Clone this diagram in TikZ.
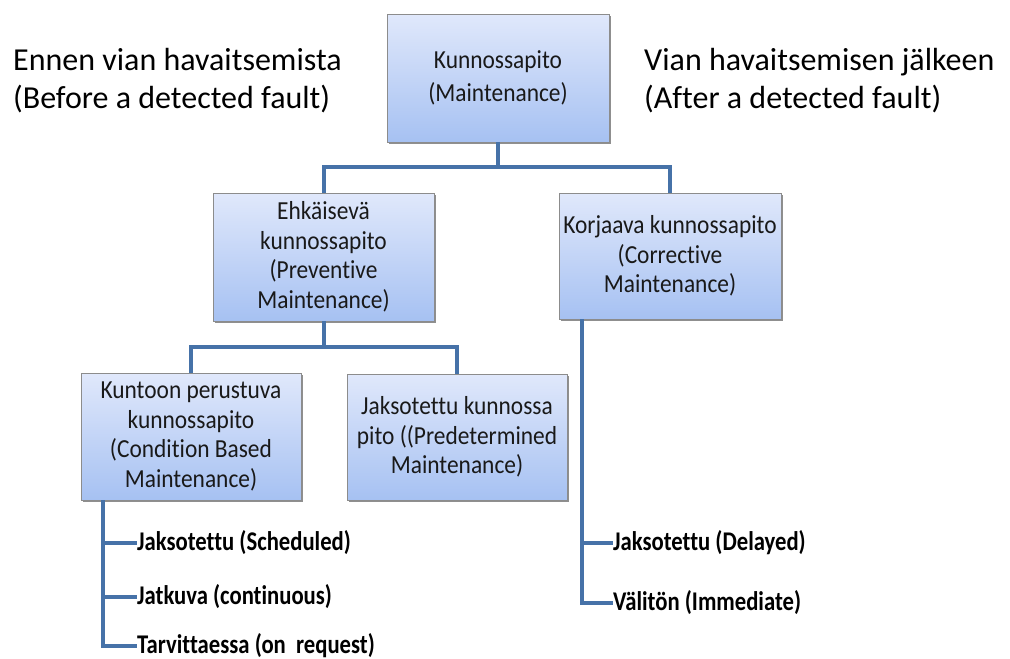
\documentclass[tikz,border=0pt]{standalone}
\usepackage{fontspec}
\setmainfont[RawFeature=-liga]{Carlito}
\newfontfamily\boxfont[FakeStretch=0.9,RawFeature=-liga]{Carlito}
\newfontfamily\listfont[FakeStretch=0.84,RawFeature=-liga]{Carlito}
\usetikzlibrary{shadows}
\definecolor{conncol}{RGB}{70,114,168}
\definecolor{boxtop}{RGB}{224,232,251}
\definecolor{boxbot}{RGB}{166,193,242}
\definecolor{boxedge}{RGB}{140,140,140}
\tikzset{
  mbox/.style={draw=boxedge, line width=0.8pt, top color=boxtop, bottom color=boxbot,
    drop shadow={shadow xshift=1.5pt, shadow yshift=-2pt, fill=black!55, opacity=0.8},
    align=center, inner sep=0pt, text=black!90,
    font=\boxfont\fontsize{26}{29.5}\selectfont},
  conn/.style={draw=conncol, line width=4pt},
  item/.style={anchor=west, inner sep=0pt, font=\listfont\bfseries\fontsize{27}{30}\selectfont},
  head/.style={anchor=west, inner sep=0pt, align=left, font=\fontsize{32}{38}\selectfont}
}
\begin{document}
\begin{tikzpicture}[x=1pt,y=-1pt]
\useasboundingbox (0,0) rectangle (1010,659);
\node[head] (hl) at (13,81) {Ennen vian havaitsemista\\(Before a detected fault)};
\node[head] (hr) at (644,81) {Vian havaitsemisen jälkeen\\(After a detected fault)};

\node[mbox, minimum width=222pt, minimum height=128pt] (top) at (498,78) {Kunnossapito\\[3pt](Maintenance)};
\node[mbox, minimum width=221pt, minimum height=128pt] (prev) at (323.5,257) {Ehkäisevä\\kunnossapito\\(Preventive\\Maintenance)};
\node[mbox, minimum width=222pt, minimum height=126pt] (corr) at (670,256) {Korjaava kunnossapito\\(Corrective\\Maintenance)};
\node[mbox, minimum width=220pt, minimum height=127pt] (cond) at (191,436.5) {Kuntoon perustuva\\kunnossapito\\(Condition Based\\Maintenance)};
\node[mbox, minimum width=220pt, minimum height=126pt] (pred) at (457,437) {Jaksotettu kunnossa\\pito ((Predetermined\\Maintenance)};

\draw[conn] (top.south) -- ++(0,25) coordinate (tj);
\draw[conn] (prev.north) |- (tj) -| (corr.north);
\draw[conn] (prev.south) -- ++(0,26) coordinate (pj);
\draw[conn] (cond.north) |- (pj) -| (pred.north);

\node[item] (l1) at (137,543) {Jaksotettu (Scheduled)};
\node[item] (l2) at (137,597) {Jatkuva (continuous)};
\node[item] (l3) at (137,646) {Tarvittaessa (on~~request)};
\coordinate (lx) at (103,0);
\draw[conn] (cond.south -| lx) |- (l3.west);
\draw[conn] (l1.west -| lx) -- (l1.west);
\draw[conn] (l2.west -| lx) -- (l2.west);

\node[item] (r1) at (613,543) {Jaksotettu (Delayed)};
\node[item] (r2) at (613,603) {Välitön (Immediate)};
\coordinate (rx) at (582,0);
\draw[conn] (corr.south -| rx) |- (r2.west);
\draw[conn] (r1.west -| rx) -- (r1.west);
\end{tikzpicture}
\end{document}
